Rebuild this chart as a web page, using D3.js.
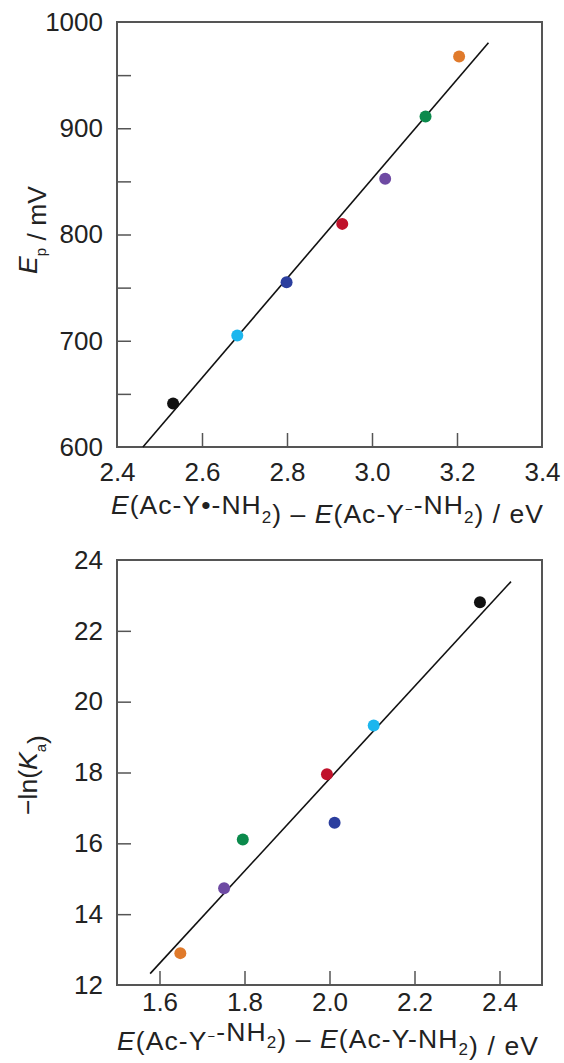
<!DOCTYPE html>
<html>
  <head>
    <meta charset="UTF-8">
    <title>Ep and pKa correlations</title>
    <style>
      body {margin: 0; background: #fff}
      svg {display: block; font-family: "Liberation Sans", Arial, sans-serif}
      .tick text {font-size: 26px; fill: #222; font-family: "Liberation Sans", Arial, sans-serif}
      .tick line {stroke: #555; stroke-width: 1.5}
      .title {font-size: 26.5px; fill: #222}
    </style>
  </head>
  <body>
    <div id="chart"></div>
    <script src="https://d3js.org/d3.v7.min.js"></script>
    <script>

// point colours, same order in both panels
const colors = ["#111111", "#1cb6ee", "#2b3e9e", "#c0122b", "#6e4aa3", "#0b8a4c", "#e07a2b"];

// top panel: Ep vs E(Ac-Y•-NH2) - E(Ac-Y−-NH2)
const topX = [2.532, 2.683, 2.799, 2.930, 3.031, 3.126, 3.205];
const topY = [641, 705, 755, 810, 852.5, 911, 967.5];
const topFitX = [2.461, 3.274];
const topFitY = [600, 980.5];
const topXTicks = [2.4, 2.6, 2.8, 3.0, 3.2, 3.4];
const topYTicks = [600, 700, 800, 900, 1000];
const topYMinor = [650, 750, 850, 950];

// bottom panel: -ln(Ka) vs E(Ac-Y−-NH2) - E(Ac-Y-NH2)
const botX = [2.354, 2.104, 2.012, 1.994, 1.752, 1.796, 1.649];
const botY = [22.81, 19.33, 16.58, 17.95, 14.73, 16.11, 12.90];
const botFitX = [1.578, 2.427];
const botFitY = [12.32, 23.39];
const botXTicks = [1.6, 1.8, 2.0, 2.2, 2.4];
const botYTicks = [12, 14, 16, 18, 20, 22, 24];

const width = 564, height = 1063;
const svg = d3.select("#chart").append("svg").attr("width", width).attr("height", height);

function panel(o) {
  const x = d3.scaleLinear().domain(o.xDomain).range([117, 542]);
  const y = d3.scaleLinear().domain(o.yDomain).range([o.bottom, o.top]);
  const g = svg.append("g");

  g.append("g")
    .attr("transform", `translate(0,${o.bottom})`)
    .call(d3.axisBottom(x).tickValues(o.xTicks).tickFormat(d3.format(".1f"))
      .tickSizeInner(-14).tickSizeOuter(0).tickPadding(o.xPad))
    .call(a => a.select(".domain").remove())
    .call(a => a.selectAll(".tick line").filter(d => d === o.xDomain[0] || d === o.xDomain[1]).remove());

  g.append("g")
    .attr("transform", "translate(117,0)")
    .call(d3.axisLeft(y).tickValues(o.yTicks).tickFormat(d3.format("d"))
      .tickSizeInner(-14).tickSizeOuter(0).tickPadding(14))
    .call(a => a.select(".domain").remove())
    .call(a => a.selectAll(".tick line").filter(d => d === o.yDomain[0] || d === o.yDomain[1]).remove());

  if (o.yMinor) {
    g.append("g")
      .attr("transform", "translate(117,0)")
      .call(d3.axisLeft(y).tickValues(o.yMinor).tickFormat("").tickSizeInner(-14).tickSizeOuter(0))
      .call(a => a.select(".domain").remove());
  }

  g.append("rect")
    .attr("x", 117).attr("y", o.top)
    .attr("width", 425).attr("height", o.bottom - o.top)
    .attr("fill", "none").attr("stroke", "#555").attr("stroke-width", 2);

  g.append("line")
    .attr("x1", x(o.fitX[0])).attr("y1", y(o.fitY[0]))
    .attr("x2", x(o.fitX[1])).attr("y2", y(o.fitY[1]))
    .attr("stroke", "#111").attr("stroke-width", 1.6);

  g.selectAll("circle").data(o.xs).join("circle")
    .attr("cx", d => x(d))
    .attr("cy", (d, i) => y(o.ys[i]))
    .attr("r", 6)
    .attr("fill", (d, i) => colors[i]);

  // x title, stretched to the reference width
  const xt = g.append("text").attr("class", "title")
    .attr("x", o.xTitleX).attr("y", o.xTitleY)
    .attr("textLength", o.xTitleW).attr("lengthAdjust", "spacing");
  o.xTitle(xt);

  // y title
  const yt = g.append("text").attr("class", "title")
    .attr("transform", `translate(37,${o.yTitleC}) rotate(-90)`)
    .attr("text-anchor", "middle");
  o.yTitle(yt);
}

function sub(t, s, size, shift) {
  const d = shift || 9;
  t.append("tspan").attr("dy", d).attr("font-size", size || 17).text(s);
  t.append("tspan").attr("dy", -d).text("");
}
function sup(t, s) {
  t.append("tspan").attr("dy", -9).attr("font-size", 13).text(s);
  t.append("tspan").attr("dy", 9).text("");
}

panel({
  xDomain: [2.4, 3.4], yDomain: [600, 1000], top: 22, bottom: 447,
  xTicks: topXTicks, yTicks: topYTicks, yMinor: topYMinor, xPad: 16,
  fitX: topFitX, fitY: topFitY, xs: topX, ys: topY,
  xTitleX: 111, xTitleY: 514, xTitleW: 432, yTitleC: 230,
  xTitle: t => {
    t.append("tspan").attr("font-style", "italic").text("E");
    t.append("tspan").text("(Ac-Y•-NH");
    sub(t, "2");
    t.append("tspan").text(") – ");
    t.append("tspan").attr("font-style", "italic").text("E");
    t.append("tspan").text("(Ac-Y");
    sup(t, "−");
    t.append("tspan").text("-NH");
    sub(t, "2");
    t.append("tspan").text(") / eV");
  },
  yTitle: t => {
    t.append("tspan").attr("font-style", "italic").text("E");
    sub(t, "p", 15);
    t.append("tspan").text(" / mV");
  }
});

panel({
  xDomain: [1.5, 2.5], yDomain: [12, 24], top: 560, bottom: 985,
  xTicks: botXTicks, yTicks: botYTicks, xPad: 8,
  fitX: botFitX, fitY: botFitY, xs: botX, ys: botY,
  xTitleX: 117, xTitleY: 1050, xTitleW: 421, yTitleC: 775,
  xTitle: t => {
    t.append("tspan").attr("font-style", "italic").text("E");
    t.append("tspan").text("(Ac-Y");
    sup(t, "−");
    t.append("tspan").text("-NH");
    sub(t, "2", 17, 7);
    t.append("tspan").text(") – ");
    t.append("tspan").attr("font-style", "italic").text("E");
    t.append("tspan").text("(Ac-Y-NH");
    sub(t, "2", 17, 7);
    t.append("tspan").text(") / eV");
  },
  yTitle: t => {
    t.append("tspan").text("−ln(");
    t.append("tspan").attr("font-style", "italic").text("K");
    sub(t, "a", 15);
    t.append("tspan").text(")");
  }
});

    </script>
  </body>
</html>
